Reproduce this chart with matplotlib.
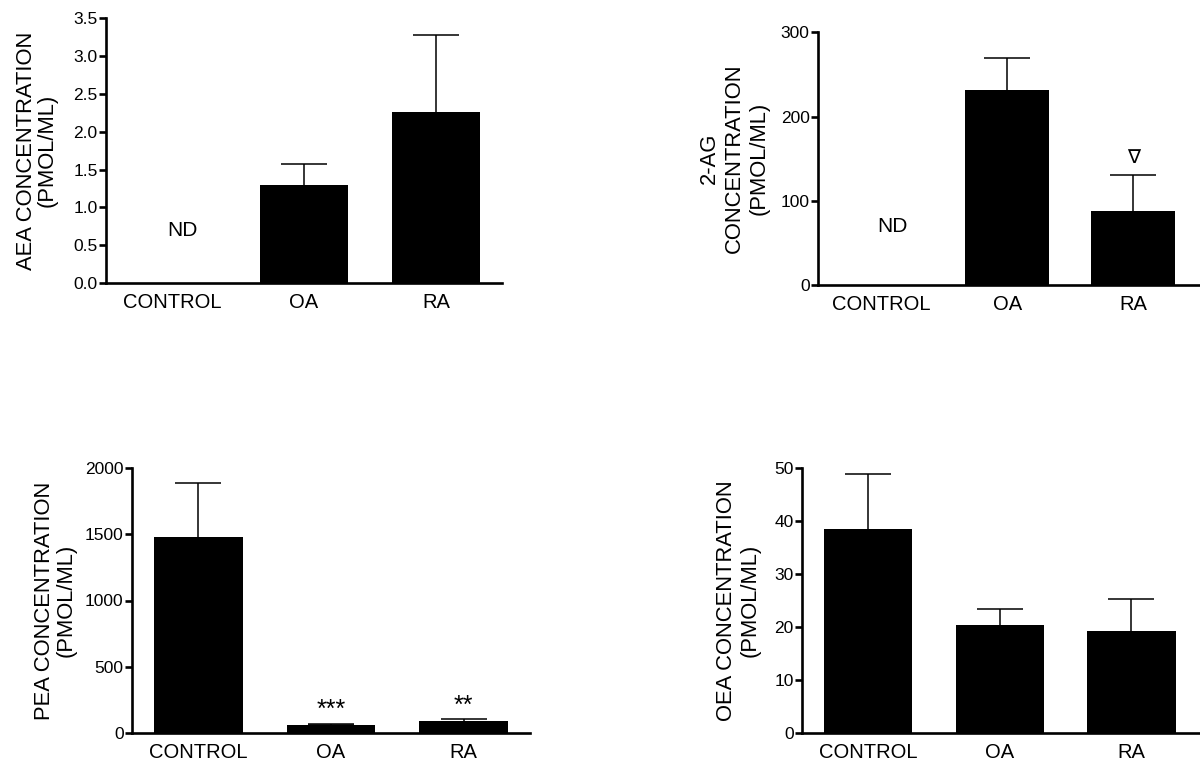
import numpy as np
import matplotlib
matplotlib.use("Agg")
import matplotlib.pyplot as plt

plt.rcParams['font.family'] = ['Liberation Sans', 'DejaVu Sans']

groups = ['CONTROL', 'OA', 'RA']

# AEA, ND = not detected in control
aea_mean = [0.0, 1.30, 2.26]
aea_err = [0.0, 0.27, 1.02]
# 2-AG
ag_mean = [0.0, 231, 88]
ag_err = [0.0, 39, 42]
# PEA
pea_mean = [1480, 63, 93]
pea_err = [407, 3, 13]
# OEA
oea_mean = [38.4, 20.3, 19.3]
oea_err = [10.5, 3.1, 6.0]

W, H = 1200, 768
fig = plt.figure(figsize=(W / 100, H / 100), dpi=100)

def px_rect(left, right, top, bottom):
    return [left / W, 1 - bottom / H, (right - left) / W, (bottom - top) / H]

def panel(rect, means, errs, ylabel, yticks, ylim, xright, label_x, lsp, ticklabels=None):
    ax = fig.add_axes(rect)
    x = np.arange(len(groups))
    ax.bar(x, means, width=0.67, color='black', zorder=2)
    # bars with no value (ND) get no error bar
    has = np.array(errs) > 0
    ax.errorbar(x[has], np.array(means)[has], yerr=np.array(errs)[has], fmt='none',
                ecolor='black', elinewidth=1.1, capsize=16.5, capthick=1.1, zorder=1)
    ax.set_xlim(-0.5, xright)
    ax.set_ylim(*ylim)
    ax.set_yticks(yticks)
    if ticklabels is not None:
        ax.set_yticklabels(ticklabels)
    ax.set_xticks(x)
    ax.set_xticklabels(groups)
    for s in ['top', 'right']:
        ax.spines[s].set_visible(False)
    for s in ['left', 'bottom']:
        ax.spines[s].set_linewidth(1.9)
    ax.tick_params(axis='y', length=5, width=1.9, labelsize=12.5, pad=1)
    ax.tick_params(axis='x', length=0, labelsize=14.5, pad=7)
    ax.set_ylabel(ylabel, fontsize=15.8, linespacing=lsp)
    ax.yaxis.set_label_coords(label_x, 0.5)
    return ax

ax1 = panel(px_rect(106, 502, 18.3, 283), aea_mean, aea_err,
            'AEA CONCENTRATION\n(PMOL/ML)', np.arange(0, 3.51, 0.5), (0, 3.5), 2.5, -0.121, 1.0,
            ['%.1f' % v for v in np.arange(0, 3.51, 0.5)])
ax1.text(0.08, 0.70, 'ND', ha='center', va='center', fontsize=15)

ax2 = panel(px_rect(818, 1200, 32.3, 285), ag_mean, ag_err,
            '2-AG\nCONCENTRATION\n(PMOL/ML)', [0, 100, 200, 300], (0, 300), 2.53, -0.126, 1.25)
ax2.text(0.09, 70, 'ND', ha='center', va='center', fontsize=15)
ax2.text(2, 151, '\u2207', ha='center', va='center', fontsize=14,
         family=['DejaVu Sans'])

ax3 = panel(px_rect(132, 530, 468, 733), pea_mean, pea_err,
            'PEA CONCENTRATION\n(PMOL/ML)', [0, 500, 1000, 1500, 2000], (0, 2000), 2.5, -0.138, 1.05)
ax3.text(1, 125, '***', ha='center', va='baseline', fontsize=18)
ax3.text(2, 155, '**', ha='center', va='baseline', fontsize=18)

ax4 = panel(px_rect(802, 1200, 468, 733), oea_mean, oea_err,
            'OEA CONCENTRATION\n(PMOL/ML)', [0, 10, 20, 30, 40, 50], (0, 50), 2.52, -0.103, 1.2)

fig.savefig('out.png', dpi=100)
